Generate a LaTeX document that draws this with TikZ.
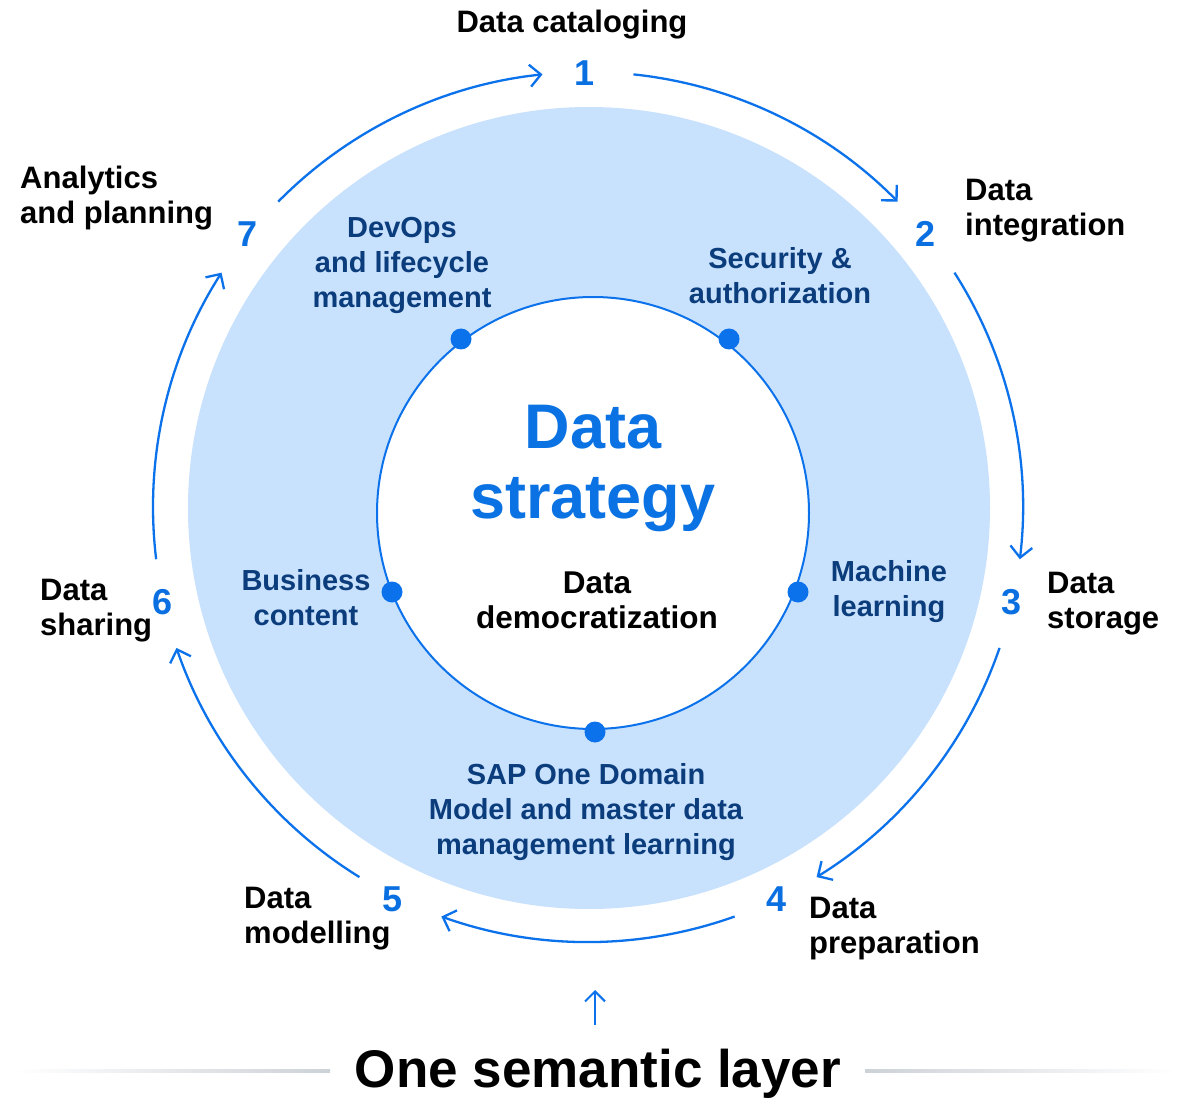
\documentclass[tikz,border=0pt]{standalone}
\usepackage{fontspec}
\setmainfont{Liberation Sans}
\usetikzlibrary{arrows.meta}
\definecolor{ringblue}{HTML}{0B72EB}
\definecolor{lightfill}{HTML}{C8E1FD}
\definecolor{darkblue}{HTML}{0B3D7C}
\definecolor{numblue}{HTML}{0A6FE0}
\definecolor{stratblue}{HTML}{0A72E2}
\definecolor{linegray}{HTML}{CDD2D7}
\begin{document}
\begin{tikzpicture}[x=1pt,y=1pt,
  lbl/.style={font=\fontsize{31}{35}\selectfont\bfseries, text=black, inner sep=0pt, align=left},
  inlbl/.style={font=\fontsize{29}{35}\selectfont\bfseries, text=darkblue, inner sep=0pt, align=center},
  num/.style={font=\fontsize{36}{40}\selectfont\bfseries, text=numblue, inner sep=0pt},
  cyc/.style={draw=ringblue, line width=2.3pt, -{Straight Barb[length=11pt,width=22pt,line width=2.3pt]}},
  dotnode/.style={circle, fill=ringblue, minimum size=21pt, inner sep=0pt},
]
\useasboundingbox (0,0) rectangle (1184,-1099);
\fill[white] (0,0) rectangle (1184,-1099);
\coordinate (C) at (588,-507);
% discs
\fill[lightfill] (589,-508) circle[radius=401];
\draw[ringblue, line width=2pt, fill=white] (593,-513) circle[radius=216];
% dots
\node[dotnode] (d1) at (461,-339) {};
\node[dotnode] (d2) at (729,-339) {};
\node[dotnode] (d3) at (392,-592) {};
\node[dotnode] (d4) at (798,-592) {};
\node[dotnode] (d5) at (595,-732) {};
% centre texts
\node[font=\fontsize{63}{70}\selectfont\bfseries, text=stratblue, align=center, inner sep=0pt] (strat) at (593,-469) {Data\\strategy};
\node[font=\fontsize{31.5}{35}\selectfont\bfseries, text=black, align=center, inner sep=0pt] (demo) at (597,-600) {Data\\democratization};
% inner labels
\node[inlbl] (devops) at (402,-265) {DevOps\\and lifecycle\\management};
\node[inlbl] (sec) at (780,-276) {Security \&\\authorization};
\node[inlbl] (bus) at (306,-598) {Business\\content};
\node[inlbl] (ml) at (889,-592) {Machine\\learning};
\node[inlbl] (sap) at (586,-812) {SAP One Domain\\Model and master data\\management learning};
% numbers
\node[num] (n1) at (585,-73) {1};
\node[num] (n2) at (926,-234) {2};
\node[num] (n3) at (1012,-602) {3};
\node[num] (n4) at (777,-899) {4};
\node[num] (n5) at (393,-899) {5};
\node[num] (n6) at (163,-602) {6};
\node[num] (n7) at (248,-234) {7};
% outer labels
\node[lbl] (l1) at (572,-25) {Data cataloging};
\node[lbl, anchor=west] (l2) at (965,-211) {Data\\integration};
\node[lbl, anchor=west] (l3) at (1047,-604) {Data\\storage};
\node[lbl, anchor=west] (l4) at (809,-929) {Data\\preparation};
\node[lbl, anchor=west] (l5) at (244,-919) {Data\\modelling};
\node[lbl, anchor=west] (l6) at (40,-611) {Data\\sharing};
\node[lbl, anchor=west] (l7) at (20,-198) {Analytics\\and planning};
% cycle arcs
\draw[cyc] (C) ++(84:435) arc[start angle=84, end angle=44.6, radius=435];
\draw[cyc] (C) ++(32.6:435) arc[start angle=32.6, end angle=-6.9, radius=435];
\draw[cyc] (C) ++(-18.9:435) arc[start angle=-18.9, end angle=-58.3, radius=435];
\draw[cyc] (C) ++(-70.3:435) arc[start angle=-70.3, end angle=-109.7, radius=435];
\draw[cyc] (C) ++(-121.7:435) arc[start angle=-121.7, end angle=-161.1, radius=435];
\draw[cyc] (C) ++(-173.1:435) arc[start angle=-173.1, end angle=-212.6, radius=435];
\draw[cyc] (C) ++(135.4:435) arc[start angle=135.4, end angle=96, radius=435];
% bottom
\node[font=\fontsize{53}{58}\selectfont\bfseries, text=black, inner sep=0pt] (osl) at (598,-1074) {One semantic layer};
\coordinate (upstart) at (595,-1025);
\coordinate (upend) at (595,-990);
\draw[draw=ringblue, line width=2pt, -{Straight Barb[length=10pt,width=20pt,line width=2pt]}] (upstart) -- (upend);
\shade[left color=white, right color=linegray] (15,-1069.5) rectangle (330,-1072.5);
\shade[left color=linegray, right color=white] (865,-1069.5) rectangle (1175,-1072.5);
\end{tikzpicture}
\end{document}
